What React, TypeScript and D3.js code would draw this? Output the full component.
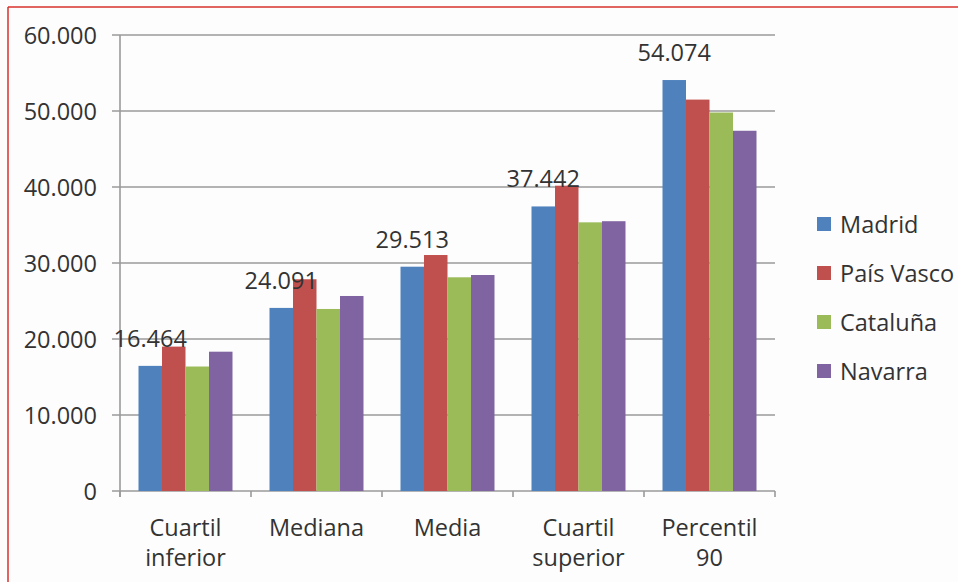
import React from "react";
import * as d3 from "d3";

const categories: string[][] = [
  ["Cuartil", "inferior"],
  ["Mediana"],
  ["Media"],
  ["Cuartil", "superior"],
  ["Percentil", "90"],
];
const categoryKeys = ["Cuartil inferior", "Mediana", "Media", "Cuartil superior", "Percentil 90"];
const seriesNames = ["Madrid", "País Vasco", "Cataluña", "Navarra"];
const madrid = [16464, 24091, 29513, 37442, 54074];
const paisVasco = [19000, 27860, 31050, 40170, 51500];
const cataluna = [16380, 23950, 28120, 35350, 49800];
const navarra = [18330, 25660, 28420, 35500, 47400];
const seriesValues = [madrid, paisVasco, cataluna, navarra];
const seriesColors = ["#4F81BD", "#C0504D", "#9BBB59", "#8064A2"];
const yTicks = [0, 10000, 20000, 30000, 40000, 50000, 60000];

const W = 958;
const H = 582;
const plot = { left: 120, right: 775, top: 35, bottom: 491 };
const FONT = "'Open Sans', 'DejaVu Sans', sans-serif";
const TEXT = "#333333";
const FS = 23.5;

const esLocale = d3.formatLocale({
  decimal: ",",
  thousands: ".",
  grouping: [3],
  currency: ["", " €"],
});
const fmt = esLocale.format(",d");

export default function App() {
  const y = d3.scaleLinear().domain([0, 60000]).range([plot.bottom, plot.top]);
  const x0 = d3.scaleBand<string>().domain(categoryKeys).range([plot.left, plot.right]);
  const groupW = 94;
  const x1 = d3.scaleBand<string>().domain(seriesNames).range([0, groupW]);
  const groupPad = (x0.bandwidth() - groupW) / 2;

  return (
    <svg
      width={W}
      height={H}
      style={{ position: "absolute", left: 0, top: 0, background: "#fdfdfd" }}
      fontFamily={FONT}
    >
      {/* frame */}
      <line x1={8} x2={W} y1={7} y2={7} stroke="#d9302c" strokeWidth={1.5} />
      <line x1={8} x2={8} y1={7} y2={H} stroke="#d9302c" strokeWidth={1.5} />

      {/* gridlines and y ticks */}
      {yTicks.map((t) => (
        <g key={t}>
          <line
            x1={plot.left - 8}
            x2={plot.right}
            y1={y(t)}
            y2={y(t)}
            stroke="#9a9a9a"
            strokeWidth={1.6}
          />
          <text
            x={97}
            y={y(t)}
            textAnchor="end"
            dominantBaseline="central"
            fontSize={FS}
            fill={TEXT}
          >
            {t === 0 ? "0" : fmt(t)}
          </text>
        </g>
      ))}

      {/* bars */}
      {categoryKeys.map((c, ci) => (
        <g key={c} transform={`translate(${(x0(c) ?? 0) + groupPad},0)`}>
          {seriesNames.map((s, si) => {
            const v = seriesValues[si][ci];
            return (
              <rect
                key={s}
                x={x1(s)}
                y={y(v)}
                width={x1.bandwidth()}
                height={y(0) - y(v)}
                fill={seriesColors[si]}
              />
            );
          })}
        </g>
      ))}

      {/* axes */}
      <line x1={plot.left} x2={plot.left} y1={plot.top} y2={plot.bottom + 6} stroke="#9a9a9a" strokeWidth={1.6} />
      {[...categoryKeys.map((c) => x0(c) ?? 0), plot.right].map((xv, i) => (
        <line key={i} x1={xv} x2={xv} y1={plot.bottom} y2={plot.bottom + 6} stroke="#9a9a9a" strokeWidth={1.6} />
      ))}

      {/* Madrid value labels */}
      {categoryKeys.map((c, ci) => {
        const v = madrid[ci];
        const cx = (x0(c) ?? 0) + groupPad + (x1("Madrid") ?? 0) + x1.bandwidth() / 2;
        return (
          <text key={c} x={cx} y={y(v) - 19} textAnchor="middle" fontSize={FS} fill={TEXT}>
            {fmt(v)}
          </text>
        );
      })}

      {/* category labels, one text per line */}
      {categoryKeys.map((c, ci) => {
        const cx = (x0(c) ?? 0) + x0.bandwidth() / 2;
        return (
          <g key={c}>
            {categories[ci].map((line, li) => (
              <text key={li} x={cx} y={536 + li * 30} textAnchor="middle" fontSize={FS} fill={TEXT}>
                {line}
              </text>
            ))}
          </g>
        );
      })}

      {/* legend */}
      {seriesNames.map((s, i) => {
        const cy = 224 + i * 49;
        return (
          <g key={s}>
            <rect x={817} y={cy - 7} width={14} height={14} fill={seriesColors[i]} />
            <text x={840} y={cy} dominantBaseline="central" fontSize={FS} fill={TEXT}>
              {s}
            </text>
          </g>
        );
      })}
    </svg>
  );
}
